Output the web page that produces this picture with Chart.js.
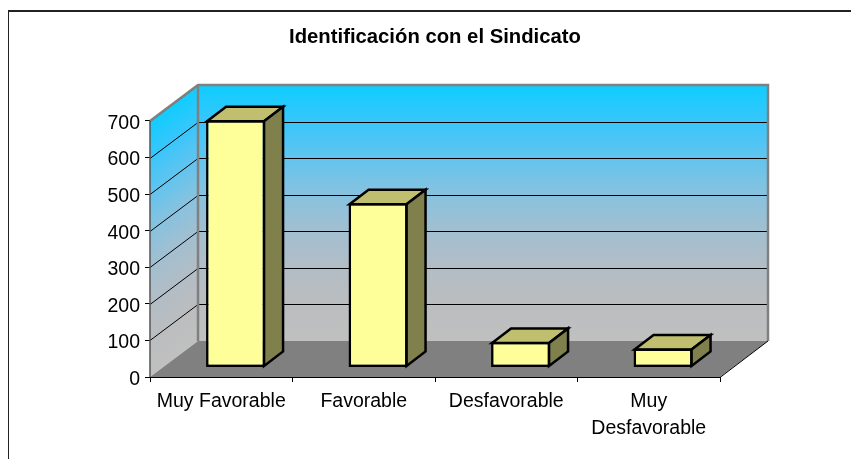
<!DOCTYPE html>
<html>
<head>
<meta charset="utf-8">
<title>Identificación con el Sindicato</title>
<script src="https://cdn.jsdelivr.net/npm/chart.js@4"></script>
<style>
    html, body { margin: 0; padding: 0; background: #fff; }
    canvas { display: block; }
</style>
</head>
<body>
<canvas id="grafico" width="851" height="459"></canvas>
<script>
const categorias = ["Muy Favorable", "Favorable", "Desfavorable", ["Muy", "Desfavorable"]];
const valores = [676, 449, 70, 52];
const marcasY = [0, 100, 200, 300, 400, 500, 600, 700];
const titulo = "Identificación con el Sindicato";

// desplazamientos de la perspectiva (pared, barra y profundidad de la barra)
const PARED = { dx: 48, dy: -36 };
const FRENTE = { dx: 14.3, dy: -9.5 };
const FONDO = { dx: 19, dy: -14.5 };

function degradado(ctx, arriba, abajo) {
    const g = ctx.createLinearGradient(0, arriba, 0, abajo);
    g.addColorStop(0, "#0fcdff");
    g.addColorStop(0.143, "#38c6fb");
    g.addColorStop(0.286, "#62c4ee");
    g.addColorStop(0.43, "#88c2df");
    g.addColorStop(0.57, "#a2bfd0");
    g.addColorStop(0.714, "#b2bdc6");
    g.addColorStop(0.857, "#bbbdbf");
    g.addColorStop(1, "#c0c0c0");
    return g;
}

const marco = {
    id: "marco",
    beforeDraw(chart) {
        const ctx = chart.ctx;
        ctx.save();
        ctx.fillStyle = "#fff";
        ctx.fillRect(0, 0, chart.width, chart.height);
        ctx.fillStyle = "#222";
        ctx.fillRect(8, 10, chart.width - 8, 2);
        ctx.fillRect(8, 10, 1, chart.height - 10);
        ctx.restore();
    }
};

const caja3d = {
    id: "caja3d",
    // paredes, piso y rejilla, todo sale de las escalas
    beforeDatasetsDraw(chart) {
        const ctx = chart.ctx;
        const y = chart.scales.y;
        const { left, right, top, bottom } = chart.chartArea;
        ctx.save();

        // pared lateral: degradado inclinado con la perspectiva
        ctx.save();
        ctx.beginPath();
        ctx.moveTo(left, top);
        ctx.lineTo(left + PARED.dx, top + PARED.dy);
        ctx.lineTo(left + PARED.dx, bottom + PARED.dy);
        ctx.lineTo(left, bottom);
        ctx.closePath();
        ctx.clip();
        ctx.transform(1, PARED.dy / PARED.dx, 0, 1, left, 0);
        ctx.fillStyle = degradado(ctx, top, bottom);
        ctx.fillRect(0, top - 10, PARED.dx, bottom - top + 20);
        ctx.restore();

        // pared del fondo
        ctx.fillStyle = degradado(ctx, top + PARED.dy, bottom + PARED.dy);
        ctx.fillRect(left + PARED.dx, top + PARED.dy, right - left, bottom - top);

        // piso
        ctx.fillStyle = "#808080";
        ctx.beginPath();
        ctx.moveTo(left, bottom);
        ctx.lineTo(right, bottom);
        ctx.lineTo(right + PARED.dx, bottom + PARED.dy);
        ctx.lineTo(left + PARED.dx, bottom + PARED.dy);
        ctx.closePath();
        ctx.fill();

        // rejilla
        ctx.strokeStyle = "#000";
        ctx.lineWidth = 1;
        marcasY.slice(1).forEach(v => {
            const py = Math.round(y.getPixelForValue(v)) + 0.5;
            ctx.beginPath();
            ctx.moveTo(left, py);
            ctx.lineTo(left + PARED.dx, py + PARED.dy);
            if (v !== marcasY[marcasY.length - 1]) {
                ctx.lineTo(right + PARED.dx, py + PARED.dy);
            }
            ctx.stroke();
        });

        // bordes grises
        ctx.strokeStyle = "#808080";
        ctx.lineWidth = 2.5;
        ctx.beginPath();
        ctx.moveTo(left, top);
        ctx.lineTo(left + PARED.dx, top + PARED.dy);
        ctx.lineTo(right + PARED.dx, top + PARED.dy);
        ctx.lineTo(right + PARED.dx, bottom + PARED.dy);
        ctx.moveTo(left + PARED.dx, top + PARED.dy);
        ctx.lineTo(left + PARED.dx, bottom + PARED.dy);
        ctx.stroke();

        // eje vertical
        ctx.strokeStyle = "#555";
        ctx.lineWidth = 1.5;
        ctx.beginPath();
        ctx.moveTo(left, top);
        ctx.lineTo(left, bottom);
        ctx.stroke();

        // filo del piso
        ctx.strokeStyle = "#000";
        ctx.lineWidth = 1;
        ctx.beginPath();
        ctx.moveTo(left, bottom + 0.5);
        ctx.lineTo(right, bottom + 0.5);
        ctx.lineTo(right + PARED.dx, bottom + PARED.dy);
        ctx.stroke();
        ctx.restore();
    },
    // caras de arriba y de costado, la cara frontal la pinta Chart.js
    beforeDatasetDraw(chart, args) {
        const ctx = chart.ctx;
        ctx.save();
        ctx.translate(FRENTE.dx, FRENTE.dy);
        ctx.lineWidth = 2.5;
        ctx.strokeStyle = "#000";
        ctx.lineJoin = "miter";
        args.meta.data.forEach(barra => {
            const izq = barra.x - barra.width / 2 + 1;
            const der = barra.x + barra.width / 2 - 1;
            const alto = barra.y + 1;
            const base = barra.base - 1;
            ctx.fillStyle = "#bfbf6f";
            ctx.beginPath();
            ctx.moveTo(izq, alto);
            ctx.lineTo(izq + FONDO.dx, alto + FONDO.dy);
            ctx.lineTo(der + FONDO.dx, alto + FONDO.dy);
            ctx.lineTo(der, alto);
            ctx.closePath();
            ctx.fill();
            ctx.stroke();
            ctx.fillStyle = "#80804d";
            ctx.beginPath();
            ctx.moveTo(der, alto);
            ctx.lineTo(der + FONDO.dx, alto + FONDO.dy);
            ctx.lineTo(der + FONDO.dx, base + FONDO.dy);
            ctx.lineTo(der, base);
            ctx.closePath();
            ctx.fill();
            ctx.stroke();
        });
    },
    afterDatasetDraw(chart) {
        chart.ctx.restore();
    }
};

new Chart(document.getElementById("grafico"), {
    type: "bar",
    data: {
        labels: categorias,
        datasets: [{
            data: valores,
            backgroundColor: "#ffff99",
            borderColor: "#000",
            borderWidth: 2.5,
            borderSkipped: false,
            categoryPercentage: 1,
            barPercentage: 0.414
        }]
    },
    plugins: [marco, caja3d],
    options: {
        responsive: false,
        animation: false,
        layout: { padding: { right: 131, bottom: 0 } },
        plugins: {
            legend: { display: false },
            tooltip: { enabled: false },
            title: {
                display: true,
                text: titulo,
                fullSize: false,
                color: "#000",
                font: { family: "Liberation Sans", size: 20.3, weight: "bold", lineHeight: 1.2 },
                padding: { top: 25, bottom: 71.6 }
            }
        },
        scales: {
            x: {
                afterFit(eje) { eje.height = 82; },
                grid: { drawOnChartArea: false, tickLength: 5, color: "#000", offset: true },
                border: { display: false },
                ticks: {
                    color: "#000",
                    font: { family: "Liberation Sans", size: 19.5, lineHeight: 1.38 },
                    maxRotation: 0,
                    autoSkip: false,
                    padding: 6
                }
            },
            y: {
                min: 0,
                max: 700,
                afterFit(eje) { eje.width = 150; },
                afterBuildTicks(eje) { eje.ticks = marcasY.map(value => ({ value })); },
                grid: { drawOnChartArea: false, tickLength: 5, color: "#000" },
                border: { display: false },
                ticks: {
                    color: "#000",
                    font: { family: "Liberation Sans", size: 19.5 },
                    padding: 5,
                    labelOffset: 2.5
                }
            }
        }
    }
});
</script>
</body>
</html>
